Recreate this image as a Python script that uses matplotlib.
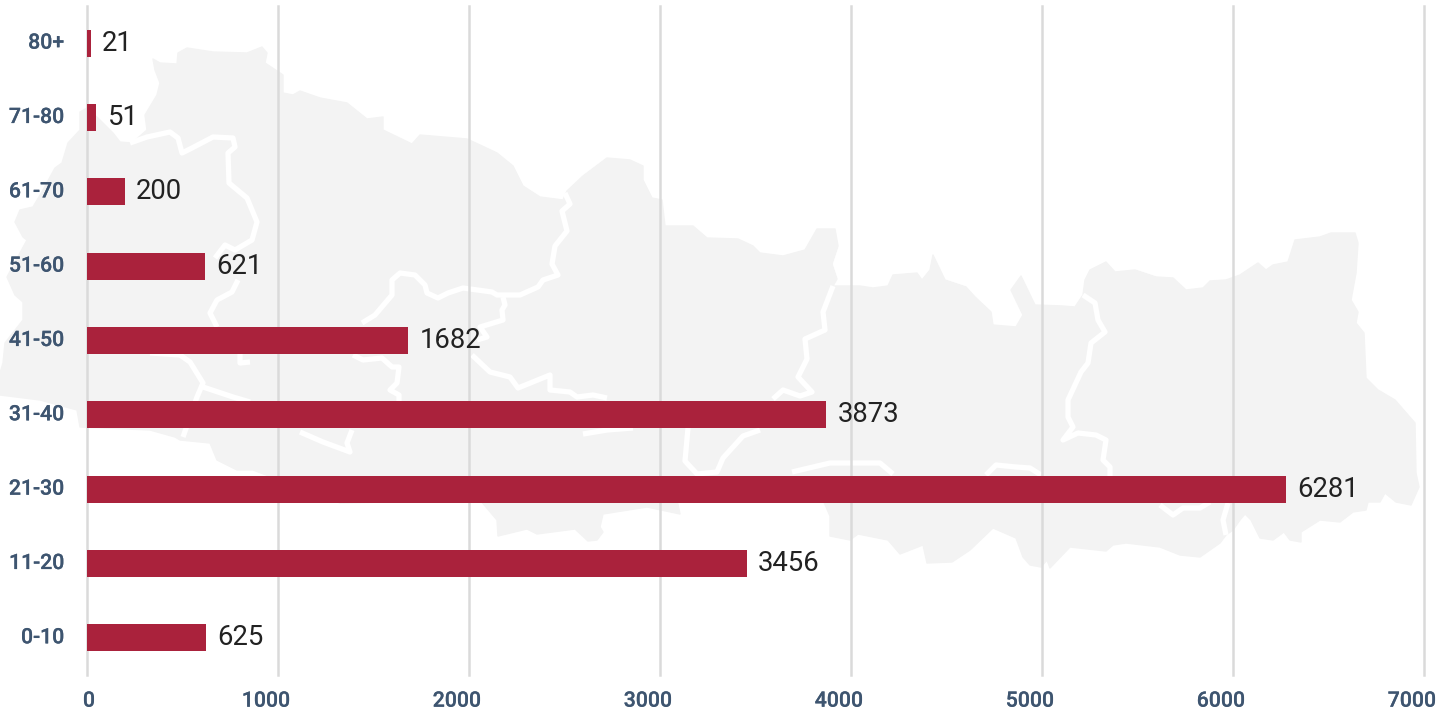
import matplotlib
matplotlib.use("Agg")
import matplotlib.pyplot as plt
import matplotlib.patheffects as pe
from matplotlib.patches import Polygon
from matplotlib.transforms import ScaledTranslation

age_groups = ["0-10", "11-20", "21-30", "31-40", "41-50", "51-60", "61-70", "71-80", "80+"]
cases = [625, 3456, 6281, 3873, 1682, 621, 200, 51, 21]
x_ticks = [0, 1000, 2000, 3000, 4000, 5000, 6000, 7000]

# background map, traced in image pixels (decoration only, not data)
map_outline = [
    (0, 373), (3, 363), (5, 343), (23, 320), (23, 302), (15, 295), (7, 277), (27, 240), (23, 237), (15, 222),
    (20, 210), (33, 207), (43, 190), (55, 168), (62, 163), (68, 143), (80, 130), (80, 112), (87, 108),
    (100, 120), (113, 133), (120, 142), (132, 143), (147, 130), (145, 115), (157, 95), (160, 83), (155, 70),
    (153, 59), (160, 63), (177, 64), (178, 53), (187, 48), (213, 52), (247, 53), (262, 47), (267, 53),
    (265, 63), (283, 75), (283, 93), (293, 95),
    (300, 91), (320, 98), (347, 103), (367, 119), (383, 117), (383, 130), (412, 144), (420, 135),
    (467, 139), (480, 145), (497, 153), (513, 166), (523, 186), (540, 197), (563, 200), (567, 191),
    (583, 176), (607, 158), (630, 160), (643, 166), (643, 180), (652, 198), (662, 200), (665, 226),
    (693, 226), (707, 238), (738, 239), (753, 246), (760, 253), (783, 256), (805, 250), (817, 229),
    (835, 229), (838, 246), (832, 264), (837, 279), (833, 286), (860, 286), (873, 288), (888, 286),
    (893, 275), (917, 273), (922, 280), (930, 270), (933, 255), (945, 280), (966, 287), (975, 297),
    (991, 312), (993, 325), (1016, 327), (1023, 315), (1011, 290), (1021, 276), (1035, 305), (1063, 306),
    (1075, 307), (1083, 295), (1085, 280), (1090, 270), (1106, 262), (1115, 272), (1135, 270), (1156, 277),
    (1173, 278), (1186, 290), (1203, 288), (1210, 281), (1226, 280), (1240, 275), (1258, 263), (1266, 270),
    (1273, 265), (1288, 262), (1295, 240), (1320, 237), (1331, 233), (1355, 233), (1358, 243), (1356, 273),
    (1351, 300), (1358, 312), (1356, 323), (1364, 333), (1366, 378), (1378, 390), (1395, 400), (1415, 423),
    (1416, 473), (1419, 487), (1411, 505), (1396, 502), (1385, 493), (1380, 502), (1368, 502), (1366, 510),
    (1353, 512), (1340, 522), (1320, 520), (1301, 532), (1301, 542), (1290, 540), (1284, 532), (1273, 540),
    (1260, 538), (1251, 520), (1245, 514), (1240, 520), (1233, 530), (1226, 535), (1220, 543), (1210, 550),
    (1200, 557), (1180, 555), (1160, 547), (1126, 543), (1113, 545), (1106, 551), (1070, 547), (1050, 568),
    (1047, 560), (1041, 567), (1030, 565), (1023, 557), (1016, 538), (993, 528), (970, 550), (952, 562),
    (927, 563), (923, 545), (900, 554), (888, 540), (858, 534), (850, 540), (830, 536), (830, 516),
    (823, 500), (677, 500), (680, 514), (647, 507), (603, 514), (600, 527), (603, 532), (597, 540),
    (588, 541), (575, 529), (537, 534), (527, 529), (498, 536), (497, 520), (480, 500), (340, 503),
    (253, 470), (237, 470), (217, 460), (210, 443), (180, 440), (175, 437), (150, 430), (80, 427),
    (77, 410), (40, 400), (0, 395),
]
border_lines = [
    [(130, 143), (147, 137), (170, 132), (178, 138), (182, 153), (192, 148), (213, 137), (233, 138),
     (235, 147), (228, 153), (229, 183), (247, 198), (257, 222), (252, 240), (235, 250), (225, 245),
     (215, 258)],
    [(238, 280), (232, 292), (217, 300), (210, 313), (217, 327)],
    [(240, 353), (240, 363), (250, 362)],
    [(150, 353), (180, 355), (190, 362), (203, 383), (197, 397), (183, 437)],
    [(203, 387), (233, 397), (250, 402)],
    [(300, 432), (323, 442), (350, 452), (347, 443), (352, 430)],
    [(362, 323), (375, 315), (392, 295), (392, 280), (400, 273), (415, 275), (425, 285), (427, 293),
     (438, 298), (448, 293), (463, 288), (492, 292), (497, 295), (520, 295), (538, 287), (543, 280),
     (558, 275), (552, 264), (555, 246), (567, 231), (562, 211), (570, 204), (565, 193)],
    [(503, 297), (505, 305), (502, 310), (503, 320), (480, 327), (487, 337), (477, 340)],
    [(472, 355), (490, 372), (510, 377), (518, 388), (550, 375), (550, 390), (570, 392), (577, 397),
     (593, 395), (607, 398)],
    [(353, 355), (363, 360), (382, 358), (392, 367), (399, 367), (397, 383), (390, 390), (399, 395), (399, 402)],
    [(583, 434), (607, 430), (633, 428)],
    [(833, 286), (823, 312), (825, 330), (805, 339), (807, 359), (798, 377), (812, 392), (800, 396),
     (783, 390), (773, 399)],
    [(760, 430), (743, 436), (723, 458), (717, 472), (697, 474), (685, 461), (688, 428)],
    [(792, 472), (830, 463), (880, 463), (893, 474)],
    [(986, 475), (996, 465), (1016, 467), (1030, 468), (1041, 475)],
    [(1083, 295), (1095, 303), (1098, 320), (1105, 332), (1091, 343), (1088, 363), (1081, 372), (1068, 400),
     (1068, 417), (1073, 427), (1063, 440), (1078, 433), (1096, 435), (1106, 440), (1103, 460), (1110, 467),
     (1110, 477)],
    [(1160, 505), (1173, 515), (1183, 508), (1200, 508), (1210, 502)],
    [(1228, 503), (1223, 520), (1226, 535)],
]

W, H = 1453, 713
plt.rcParams["font.family"] = ["Roboto", "DejaVu Sans"]

fig = plt.figure(figsize=(W / 100, H / 100), dpi=100)

bg = fig.add_axes([0, 0, 1, 1], zorder=0)
bg.set_xlim(0, W)
bg.set_ylim(H, 0)
bg.axis("off")
bg.add_patch(Polygon(map_outline, closed=True, facecolor="#f3f3f3", edgecolor="#f3f3f3", lw=1, joinstyle="round"))
for line in border_lines:
    bg.plot([p[0] for p in line], [p[1] for p in line], color="white", lw=3.8,
            solid_joinstyle="round", solid_capstyle="butt")

left, right, top, bottom = 86.5, 1423.5, 6, 675
ax = fig.add_axes([left / W, 1 - bottom / H, (right - left) / W, (bottom - top) / H], zorder=1)
ax.patch.set_alpha(0)
ax.barh(age_groups, cases, height=0.365, color="#aa223c", zorder=3)
ax.set_xlim(0, 7000)
ax.set_ylim(-0.5, 8.5)
ax.set_xticks(x_ticks)
ax.grid(axis="x", color="#dadada", lw=1.8, zorder=1)
for gl in ax.get_xgridlines():
    gl.set_clip_on(False)
ax.set_axisbelow(True)
for s in ax.spines.values():
    s.set_visible(False)
ax.tick_params(axis="both", length=0, labelcolor="#3e5570", labelsize=15.3)
ax.tick_params(axis="y", pad=16)
ax.tick_params(axis="x", pad=12)
for lab in ax.get_xticklabels() + ax.get_yticklabels():
    lab.set_fontweight("medium")
    lab.set_path_effects([pe.withStroke(linewidth=0.15, foreground="#3e5570")])
for tick, lab in zip(x_ticks, ax.get_xticklabels()):
    dx = 2.5 if tick == 0 else -11.5
    lab.set_transform(lab.get_transform() + ScaledTranslation(dx / 100, 0, fig.dpi_scale_trans))
for lab in ax.get_yticklabels():
    lab.set_transform(lab.get_transform() + ScaledTranslation(0, 2 / 100, fig.dpi_scale_trans))

for i, v in enumerate(cases):
    ax.annotate(str(v), (v, i), xytext=(11.5, 0), textcoords="offset pixels", va="center", ha="left",
                fontsize=19.8, color="#222222")

fig.savefig("out.png", dpi=100)
